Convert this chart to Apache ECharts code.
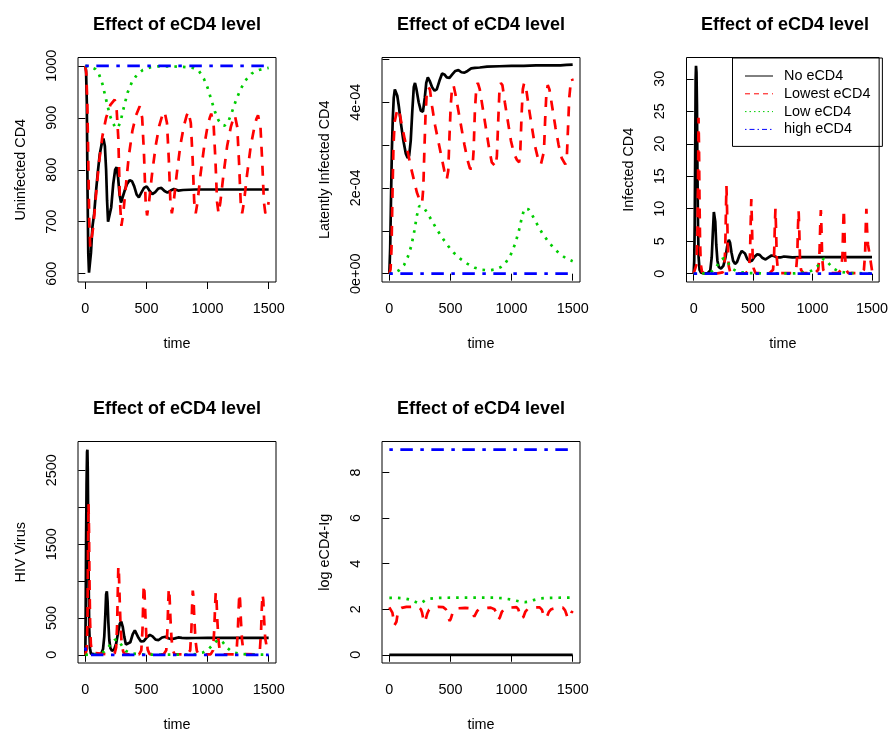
<!DOCTYPE html>
<html>
<head>
<meta charset="utf-8">
<script src="https://cdn.jsdelivr.net/npm/echarts@6/dist/echarts.min.js"></script>
<style>
html,body{margin:0;padding:0;background:#fff;}
#chart{width:891px;height:733px;}
</style>
</head>
<body>
<div id="chart"></div>
<script>
// ---------------- data ----------------
const seriesNames = ['No eCD4', 'Lowest eCD4', 'Low eCD4', 'high eCD4'];
const panelTitle = 'Effect of eCD4 level';
const yNames = ['Uninfected CD4', 'Latently Infected CD4', 'Infected CD4', 'HIV Virus', 'log eCD4-Ig'];
const xName = 'time';

const xTicks = [0, 500, 1000, 1500];
const yTicks1 = [600, 700, 800, 900, 1000];
const yTicks2 = [0, 1e-4, 2e-4, 3e-4, 4e-4, 5e-4];
const yLabelVals2 = [0, 2e-4, 4e-4];
const yLabelText2 = ['0e+00', '2e-04', '4e-04'];
const yTicks3 = [0, 5, 10, 15, 20, 25, 30];
const yTicks4 = [0, 500, 1000, 1500, 2000, 2500];
const yLabelVals4 = [0, 500, 1500, 2500];
const yTicks5 = [0, 2, 4, 6, 8];

// Panel 1: Uninfected CD4  [time, value]
const uninfNo = [[0,1000],[6,990],[12,930],[18,760],[24,640],[30,602],[38,604],[46,640],[58,690],[72,715],[88,760],[102,795],[118,830],[134,850],[148,860],[160,845],[170,800],[178,740],[186,700],[198,697],[212,728],[228,772],[244,800],[256,805],[268,785],[280,752],[292,737],[306,740],[322,760],[340,772],[362,780],[382,778],[400,768],[420,752],[438,747],[458,756],[480,765],[502,768],[524,760],[548,753],[572,757],[598,764],[622,765],[648,759],[672,756],[698,760],[725,763],[760,760],[800,761],[900,762],[1000,762],[1200,762],[1500,762]];
const uninfLowest = [[0,1000],[8,985],[16,930],[24,820],[32,700],[40,652],[50,655],[65,690],[85,745],[110,810],[140,865],[170,900],[205,925],[240,935],[255,920],[270,860],[283,740],[295,692],[310,715],[330,765],[355,825],[385,875],[415,905],[445,922],[465,900],[480,830],[493,740],[505,712],[520,735],[545,790],[575,845],[605,885],[630,905],[648,912],[668,890],[683,820],[696,738],[708,716],[723,738],[748,792],[778,848],[808,886],[830,905],[843,912],[863,890],[878,820],[891,738],[903,716],[918,738],[943,792],[973,846],[1000,884],[1018,900],[1030,908],[1050,885],[1065,815],[1078,738],[1090,716],[1105,738],[1130,790],[1160,845],[1190,882],[1210,898],[1223,905],[1243,882],[1258,812],[1271,738],[1283,716],[1298,738],[1323,790],[1353,845],[1383,882],[1400,898],[1413,905],[1433,882],[1448,812],[1461,738],[1473,716],[1488,722],[1500,738]];
const uninfLow = [[0,1000],[40,998],[80,994],[110,985],[140,965],[170,935],[200,905],[225,890],[250,880],[270,882],[290,895],[315,920],[345,948],[380,968],[420,982],[470,992],[530,997],[600,999],[700,999],[800,998],[880,996],[930,990],[970,975],[1000,958],[1030,935],[1060,912],[1090,895],[1120,886],[1140,885],[1165,890],[1195,908],[1230,932],[1270,955],[1310,972],[1360,985],[1420,992],[1500,996]];
const uninfHigh = [[0,1000],[1500,1000]];

// Panel 2: Latently infected CD4
const latNo = [[0,0],[7,0.6e-4],[14,1.8e-4],[21,2.9e-4],[28,3.6e-4],[36,4.1e-4],[45,4.3e-4],[55,4.3e-4],[65,4.15e-4],[78,3.9e-4],[95,3.5e-4],[115,3.1e-4],[135,2.8e-4],[150,2.7e-4],[162,2.75e-4],[175,3.1e-4],[188,3.8e-4],[200,4.35e-4],[210,4.45e-4],[222,4.3e-4],[240,4.0e-4],[258,3.8e-4],[275,3.78e-4],[290,4.1e-4],[302,4.45e-4],[315,4.58e-4],[330,4.5e-4],[350,4.35e-4],[370,4.27e-4],[388,4.3e-4],[410,4.5e-4],[432,4.67e-4],[450,4.65e-4],[470,4.58e-4],[492,4.57e-4],[515,4.65e-4],[540,4.73e-4],[565,4.75e-4],[590,4.7e-4],[615,4.69e-4],[640,4.73e-4],[670,4.79e-4],[700,4.8e-4],[740,4.81e-4],[800,4.83e-4],[900,4.84e-4],[1000,4.85e-4],[1100,4.85e-4],[1200,4.86e-4],[1300,4.86e-4],[1400,4.86e-4],[1450,4.87e-4],[1500,4.88e-4]];
const latLowest = [[0,0],[10,0.1e-4],[18,0.6e-4],[26,1.9e-4],[34,3.0e-4],[44,3.55e-4],[55,3.7e-4],[68,3.85e-4],[80,3.8e-4],[100,3.5e-4],[125,3.15e-4],[150,2.85e-4],[175,2.5e-4],[200,2.2e-4],[225,1.9e-4],[250,1.7e-4],[268,1.65e-4],[278,2.0e-4],[287,2.9e-4],[296,3.7e-4],[306,4.2e-4],[318,4.35e-4],[332,4.3e-4],[350,3.9e-4],[375,3.45e-4],[400,3.1e-4],[425,2.75e-4],[450,2.4e-4],[470,2.2e-4],[482,2.4e-4],[492,3.2e-4],[502,3.9e-4],[512,4.3e-4],[525,4.4e-4],[540,4.2e-4],[565,3.8e-4],[590,3.4e-4],[615,3.0e-4],[640,2.65e-4],[660,2.45e-4],[680,2.45e-4],[690,2.9e-4],[700,3.8e-4],[712,4.35e-4],[724,4.45e-4],[740,4.3e-4],[765,3.85e-4],[790,3.4e-4],[815,2.95e-4],[838,2.6e-4],[870,2.5e-4],[880,2.75e-4],[890,3.5e-4],[900,4.2e-4],[912,4.45e-4],[925,4.4e-4],[945,4.0e-4],[970,3.55e-4],[995,3.1e-4],[1020,2.8e-4],[1045,2.65e-4],[1062,2.6e-4],[1072,2.9e-4],[1082,3.7e-4],[1092,4.3e-4],[1103,4.45e-4],[1118,4.35e-4],[1140,3.9e-4],[1165,3.45e-4],[1190,3.0e-4],[1215,2.7e-4],[1240,2.55e-4],[1255,2.55e-4],[1265,2.85e-4],[1275,3.6e-4],[1285,4.2e-4],[1296,4.4e-4],[1310,4.3e-4],[1335,3.85e-4],[1360,3.4e-4],[1385,3.0e-4],[1410,2.7e-4],[1440,2.55e-4],[1452,2.7e-4],[1462,3.4e-4],[1472,4.1e-4],[1484,4.45e-4],[1494,4.55e-4],[1500,4.5e-4]];
const latLow = [[0,0],[40,0.02e-4],[80,0.08e-4],[120,0.2e-4],[150,0.38e-4],[180,0.65e-4],[205,1.0e-4],[225,1.35e-4],[245,1.58e-4],[260,1.62e-4],[280,1.55e-4],[310,1.42e-4],[345,1.25e-4],[385,1.05e-4],[430,0.85e-4],[480,0.65e-4],[530,0.48e-4],[580,0.35e-4],[640,0.23e-4],[700,0.14e-4],[760,0.09e-4],[820,0.08e-4],[870,0.1e-4],[910,0.15e-4],[950,0.25e-4],[990,0.42e-4],[1030,0.7e-4],[1060,1.0e-4],[1085,1.32e-4],[1105,1.52e-4],[1120,1.56e-4],[1140,1.5e-4],[1170,1.36e-4],[1210,1.15e-4],[1250,0.95e-4],[1300,0.75e-4],[1350,0.58e-4],[1400,0.45e-4],[1450,0.35e-4],[1500,0.29e-4]];
const latHigh = [[0,0],[1500,0]];

// Panel 3: Infected CD4
const infNo = [[0,0],[5,2],[9,7.5],[13,18],[17,30],[20,32],[24,31],[28,26],[32,16],[37,7],[42,2.5],[50,0.6],[62,0.15],[90,0.05],[120,0.1],[140,0.5],[152,2.5],[162,6.5],[170,9.5],[176,9.7],[182,8],[190,4.5],[200,2],[212,1],[230,0.8],[250,1.2],[268,2.5],[282,4.2],[296,5.2],[306,4.8],[318,3.3],[332,2.0],[348,1.5],[365,1.8],[385,2.8],[405,3.5],[418,3.6],[432,3.1],[450,2.3],[470,1.9],[490,2.0],[512,2.6],[535,3.0],[555,2.9],[580,2.4],[605,2.2],[630,2.5],[655,2.8],[680,2.7],[705,2.5],[730,2.5],[760,2.65],[790,2.6],[830,2.5],[900,2.55],[1000,2.55],[1200,2.55],[1500,2.55]];
const infLowest = [[0,0],[15,0.3],[25,1.5],[32,6],[37,14],[41,24],[45,20],[49,12],[54,5],[60,1.5],[70,0.3],[90,0.05],[200,0.05],[245,0.2],[258,1],[266,4],[272,10],[276,13.5],[281,10],[287,4.5],[295,1.2],[308,0.2],[330,0.05],[440,0.1],[465,0.6],[474,3],[480,8],[485,11.5],[490,8],[496,3],[505,0.8],[520,0.1],[640,0.1],[668,0.6],[677,3],[683,7.5],[688,10],[693,7],[699,2.5],[708,0.6],[725,0.1],[835,0.1],[862,0.6],[872,3],[878,7.5],[883,9.7],[888,7],[894,2.5],[903,0.6],[920,0.1],[1022,0.1],[1048,0.6],[1058,3],[1065,7.5],[1070,9.8],[1075,7],[1081,2.5],[1090,0.6],[1107,0.1],[1215,0.1],[1242,0.6],[1252,3],[1258,7.5],[1263,9.9],[1268,7],[1274,2.5],[1283,0.6],[1300,0.1],[1405,0.1],[1432,0.6],[1442,3],[1448,7.5],[1453,10],[1458,7],[1466,4.5],[1478,3.2],[1488,2],[1500,0.5]];
const infLow = [[0,0],[100,0.05],[150,0.3],[185,0.9],[210,1.6],[235,2.2],[255,2.4],[275,2.1],[300,1.4],[330,0.7],[370,0.3],[450,0.1],[600,0.05],[850,0.05],[950,0.2],[1000,0.5],[1040,1.1],[1070,1.9],[1095,2.3],[1115,2.1],[1140,1.5],[1175,0.8],[1220,0.35],[1300,0.1],[1500,0.05]];
const infHigh = [[0,0],[1500,0]];

// Panel 4: HIV virus
const hivNo = [[0,0],[3,600],[6,1500],[10,2300],[14,2750],[17,2780],[20,2500],[24,1700],[28,900],[32,350],[38,90],[46,15],[60,2],[100,1],[130,15],[145,80],[155,250],[163,520],[170,820],[176,860],[182,720],[188,450],[196,200],[205,90],[218,55],[235,70],[252,150],[268,300],[282,420],[294,450],[306,380],[318,250],[332,140],[348,120],[368,170],[388,280],[405,330],[418,310],[435,230],[455,180],[478,185],[505,240],[528,270],[550,250],[575,205],[600,200],[628,235],[655,245],[680,225],[705,210],[732,222],[760,235],[790,230],[830,225],[900,228],[1000,230],[1200,230],[1500,230]];
const hivLowest = [[0,0],[12,80],[18,500],[22,1400],[26,2050],[30,1700],[34,1000],[39,450],[45,150],[55,30],[70,3],[200,2],[240,20],[252,100],[260,400],[266,900],[270,1200],[275,1100],[281,750],[288,400],[297,150],[310,40],[330,5],[440,5],[458,60],[468,350],[474,750],[478,950],[484,850],[491,550],[499,250],[510,70],[525,10],[640,5],[662,60],[672,350],[678,700],[683,900],[689,800],[696,500],[705,220],[716,60],[730,8],[835,5],[858,60],[868,350],[874,680],[879,870],[885,780],[892,480],[901,200],[912,55],[925,8],[1025,5],[1045,60],[1055,350],[1062,670],[1067,850],[1073,760],[1080,470],[1089,200],[1100,55],[1113,8],[1218,5],[1238,60],[1248,340],[1255,650],[1260,830],[1266,740],[1273,460],[1282,200],[1293,55],[1306,8],[1410,5],[1428,60],[1438,330],[1444,640],[1450,820],[1456,740],[1463,470],[1472,220],[1484,110],[1494,70],[1500,55]];
const hivLow = [[0,0],[60,3],[110,12],[150,40],[185,95],[215,160],[240,200],[258,210],[278,180],[300,120],[330,55],[370,20],[450,5],[600,2],[800,2],[900,8],[960,30],[1010,80],[1050,150],[1080,195],[1100,205],[1125,170],[1160,95],[1200,40],[1260,12],[1350,4],[1500,2]];
const hivHigh = [[0,100],[4,60],[8,20],[14,3],[30,0],[1500,0]];

// Panel 5: log eCD4-Ig
const logNo = [[0,0],[1500,0]];
const logLowest = [[0,2.08],[15,2.02],[25,1.85],[33,1.6],[42,1.3],[50,1.27],[58,1.45],[68,1.8],[80,2.0],[100,2.06],[140,2.1],[200,2.11],[240,2.08],[258,2.0],[268,1.85],[277,1.6],[287,1.42],[297,1.55],[310,1.8],[325,1.98],[350,2.06],[400,2.1],[440,2.09],[462,2.0],[474,1.85],[484,1.62],[494,1.48],[504,1.6],[518,1.85],[535,1.98],[560,2.04],[620,2.06],[660,2.04],[675,1.95],[685,1.78],[695,1.68],[705,1.75],[718,1.92],[735,2.0],[770,2.04],[830,2.07],[860,2.0],[874,1.85],[884,1.65],[894,1.55],[905,1.65],[920,1.88],[940,2.0],[980,2.07],[1040,2.09],[1055,2.0],[1066,1.82],[1076,1.6],[1086,1.52],[1097,1.66],[1112,1.88],[1130,2.0],[1180,2.08],[1230,2.08],[1248,1.98],[1259,1.8],[1269,1.62],[1279,1.56],[1290,1.68],[1305,1.88],[1325,2.0],[1370,2.06],[1420,2.07],[1438,1.95],[1449,1.78],[1459,1.6],[1469,1.55],[1480,1.7],[1490,1.85],[1500,1.92]];
const logLow = [[0,2.5],[60,2.5],[120,2.48],[170,2.42],[210,2.33],[240,2.26],[262,2.28],[290,2.38],[330,2.46],[400,2.5],[600,2.51],[850,2.51],[930,2.48],[990,2.43],[1040,2.37],[1080,2.32],[1110,2.31],[1140,2.33],[1180,2.4],[1230,2.47],[1300,2.5],[1500,2.51]];
const logHigh = [[0,9],[1500,9]];

// ---------------- layout & style ----------------
const FONT = "'Liberation Sans', Arial, sans-serif";
const colors = ['#000000', '#FF0000', '#00CD00', '#0000FF'];
const dashes = ['solid', [10, 9], [2.6, 6], [3.5, 7.5, 12.5, 7.5]];
const legendDashes = ['solid', [5, 4], [1.5, 3], [1.5, 3, 5, 3]];
const LW = 2.7;

const grids = [
  {left: 78, top: 57.5, width: 198, height: 224.5},
  {left: 382, top: 57.5, width: 198, height: 224.5},
  {left: 686.5, top: 57.5, width: 197, height: 224.5},
  {left: 78, top: 441.5, width: 198, height: 224.5},
  {left: 382, top: 441.5, width: 198, height: 224.5}
];
const yRanges = [[584, 1016], [-0.194e-4, 5.044e-4], [-1.28, 33.28], [-111.2, 2891.2], [-0.36, 9.36]];
const yTickSets = [yTicks1, yTicks2, yTicks3, yTicks4, yTicks5];
const yLabelSets = [yTicks1, yLabelVals2, yTicks3, yLabelVals4, yTicks5];
const panelData = [
  [uninfNo, uninfLowest, uninfLow, uninfHigh],
  [latNo, latLowest, latLow, latHigh],
  [infNo, infLowest, infLow, infHigh],
  [hivNo, hivLowest, hivLow, hivHigh],
  [logNo, logLowest, logLow, logHigh]
];

const txt = {color: '#000', fontFamily: FONT, fontSize: 14.4};

const option = {
  animation: false,
  backgroundColor: '#fff',
  title: grids.map(g => ({
    text: panelTitle,
    left: g.left + g.width / 2,
    top: g.top - 41,
    textAlign: 'center',
    padding: 0,
    textStyle: {color: '#000', fontFamily: FONT, fontSize: 18, fontWeight: 'bold'}
  })),
  legend: {
    orient: 'vertical',
    left: 732.5,
    top: 58,
    padding: [11, 12, 10, 12],
    itemGap: 3.8,
    itemWidth: 28,
    itemHeight: 14,
    borderColor: '#000',
    borderWidth: 1,
    selectedMode: false,
    textStyle: Object.assign({}, txt, {padding: [0, 0, 0, 6]}),
    data: seriesNames.map((n, i) => ({
      name: n,
      itemStyle: {color: 'rgba(0,0,0,0)', borderWidth: 0, opacity: 0},
      lineStyle: {color: colors[i], width: 1, type: legendDashes[i], opacity: 1}
    }))
  },
  grid: grids.map(g => Object.assign({show: true, borderColor: '#000', borderWidth: 1, backgroundColor: 'transparent'}, g)),
  xAxis: grids.map((g, i) => ({
    type: 'value', gridIndex: i, min: -60, max: 1560,
    name: xName, nameLocation: 'middle', nameGap: 55, nameTextStyle: txt,
    splitLine: {show: false},
    axisLine: {show: false},
    axisTick: {show: true, customValues: xTicks, length: 7, lineStyle: {color: '#000', width: 1}},
    axisLabel: Object.assign({customValues: xTicks, margin: 20, formatter: v => String(Math.round(v))}, txt)
  })),
  yAxis: grids.map((g, i) => ({
    type: 'value', gridIndex: i, min: yRanges[i][0], max: yRanges[i][1],
    name: yNames[i], nameLocation: 'middle', nameGap: 50, nameRotate: 90, nameTextStyle: txt,
    splitLine: {show: false},
    axisLine: {show: false},
    axisTick: {show: true, customValues: yTickSets[i], length: 7, lineStyle: {color: '#000', width: 1}},
    axisLabel: Object.assign({
      customValues: yLabelSets[i], margin: 19, rotate: 90,
      formatter: function (v) {
        if (i === 1) {
          const k = yLabelVals2.findIndex(t => Math.abs(t - v) < 1e-9);
          return k >= 0 ? yLabelText2[k] : '';
        }
        return String(Math.round(v));
      }
    }, txt)
  })),
  series: []
};

panelData.forEach((arr, p) => {
  arr.forEach((d, s) => {
    option.series.push({
      type: 'line', name: seriesNames[s], xAxisIndex: p, yAxisIndex: p,
      data: d, symbol: 'none', showSymbol: false, clip: true,
      lineStyle: {color: colors[s], width: LW, type: dashes[s]},
      itemStyle: {color: colors[s]},
      emphasis: {disabled: true}
    });
  });
});

const chart = echarts.init(document.getElementById('chart'), null, {renderer: 'canvas'});
chart.setOption(option);
</script>
</body>
</html>
